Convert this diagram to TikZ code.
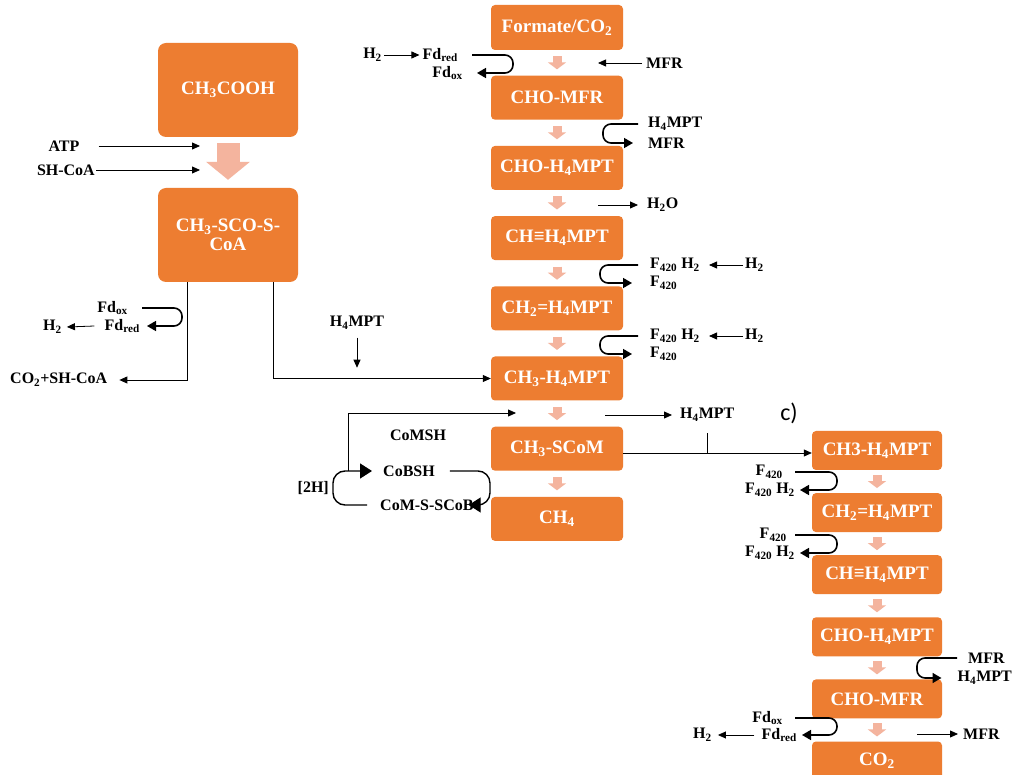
\documentclass[tikz,border=0pt]{standalone}
\usepackage{fontspec}
\setmainfont{Liberation Serif}
\newfontfamily\cfont{Carlito}
\usetikzlibrary{arrows.meta,calc}
\definecolor{orangec}{RGB}{237,125,49}
\definecolor{pinkc}{RGB}{244,180,158}
\newcommand\sbs[1]{\textsubscript{#1}}
\newcommand\pdown[2]{\draw[parrow] ($(#1.south)!.5!(#2.north)+(0,-6.5)$) -- ++(0,13);}
\begin{document}
\begin{tikzpicture}[x=1pt,y=-1pt,
 box/.style={fill=orangec, rounded corners=4pt, text=white, font=\fontsize{19}{19}\selectfont\bfseries, minimum width=132pt, minimum height=44pt, inner sep=0pt, align=center},
 rbox/.style={box, minimum width=130pt, minimum height=39pt},
 bigbox/.style={box, minimum width=140pt, minimum height=94pt, rounded corners=8pt},
 lab/.style={font=\fontsize{16}{18}\selectfont\bfseries, inner sep=0pt},
 arr/.style={line width=0.8pt, -{Triangle[length=8pt,width=7pt]}},
 lineonly/.style={line width=0.8pt},
 uloop/.style={line width=1.6pt, rounded corners=8pt, -{Triangle[length=9pt,width=10pt]}},
 bloop/.style={line width=1.4pt, rounded corners=12pt, -{Triangle[length=12pt,width=15pt]}},
 parrow/.style={pinkc, line width=9pt, -{Triangle[length=7pt,width=18pt]}},
]
\clip (0,0) rectangle (1013,775);
\fill[white] (0,0) rectangle (1013,775);

% ---------- middle column ----------
\node[box, minimum height=45pt] (f1) at (557,27.5) {Formate/CO\sbs{2}};
\node[box] (f2) at (557,97.7) {CHO-MFR};
\node[box] (f3) at (557,167.9) {CHO-H\sbs{4}MPT};
\node[box] (f4) at (557,238.1) {CH≡H\sbs{4}MPT};
\node[box] (f5) at (557,308.3) {CH\sbs{2}=H\sbs{4}MPT};
\node[box] (f6) at (557,378.5) {CH\sbs{3}-H\sbs{4}MPT};
\node[box] (f7) at (557,448.7) {CH\sbs{3}-SCoM};
\node[box] (f8) at (557,518.9) {CH\sbs{4}};
\pdown{f1}{f2}\pdown{f2}{f3}\pdown{f3}{f4}\pdown{f4}{f5}
\pdown{f5}{f6}\pdown{f6}{f7}\pdown{f7}{f8}

% ---------- left column ----------
\node[bigbox] (a1) at (228,90) {CH\sbs{3}COOH};
\node[bigbox] (a2) at (228,235) {CH\sbs{3}-SCO-S-\\CoA};
\draw[pinkc, line width=23pt, -{Triangle[length=18pt,width=43pt]}] ([yshift=-6pt]a1.south) -- ([yshift=8pt]a2.north);

\coordinate (in1) at (200,146);
\coordinate (in2) at (200,170);
\node[lab] (atp) at (64,146) {ATP};
\node[lab, anchor=east] (shcoa) at (95,170) {SH-CoA};
\draw[arr] ([xshift=19pt]atp.east) -- (in1);
\draw[arr] ([xshift=1pt]shcoa.east) -- (in2);

\node[lab, anchor=east] (fdo2) at (128,308) {Fd\sbs{ox}};
\node[lab, anchor=east] (fdr2) at (140,326) {Fd\sbs{red}};
\node[lab, anchor=west] (h2c) at (43,327) {H\sbs{2}};
\draw[uloop] ([xshift=14pt]fdo2.east) -- ++(40,0) |- ([xshift=7pt]fdr2.east);
\draw[arr] ([xshift=-10pt]fdr2.west) -- ([xshift=5pt]h2c.east);

\node[lab, anchor=west] (co2sh) at (10,380) {CO\sbs{2}+SH-CoA};
\draw[arr] ([xshift=-41pt]a2.south) |- ([xshift=12pt]co2sh.east);
\draw[arr] ([xshift=45pt]a2.south) |- (f6.west);

\node[lab] (h4b) at (357,323) {H\sbs{4}MPT};
\draw[arr] ([yshift=-8pt]h4b.south) -- ++(0,30);

% ---------- top middle labels ----------
\node[lab, anchor=east] (h2a) at (382,55) {H\sbs{2}};
\node[lab, anchor=east] (fdr1) at (458,55) {Fd\sbs{red}};
\node[lab, anchor=east] (fdo1) at (463,73) {Fd\sbs{ox}};
\draw[arr] ([xshift=2pt]h2a.east) -- ([xshift=-3pt]fdr1.west);
\draw[uloop] ([xshift=14pt]fdr1.east) -- ++(41,0) |- ([xshift=14pt]fdo1.east);

\node[lab, anchor=west] (mfr1) at (646,63) {MFR};
\draw[arr] ([xshift=-4pt]mfr1.west) -- ++(-44,0);

\node[lab, anchor=west] (h4a) at (648,124) {H\sbs{4}MPT};
\node[lab, anchor=west] (mfr2) at (648,143) {MFR};
\draw[uloop] ([xshift=-10pt]h4a.west) -- ++(-35,0) |- ([xshift=-15pt]mfr2.west);

\node[lab, anchor=west] (h2o) at (647,205) {H\sbs{2}O};
\draw[arr] ([xshift=-49pt]h2o.west) -- ([xshift=-9pt]h2o.west);

\node[lab, anchor=west] (fh1) at (650,265) {F\sbs{420} H\sbs{2}};
\node[lab, anchor=west] (fo1) at (650,283) {F\sbs{420}};
\node[lab, anchor=west] (h2b) at (745,265) {H\sbs{2}};
\draw[arr] ([xshift=-2pt]h2b.west) -- ([xshift=9pt]fh1.east);
\draw[uloop] ([xshift=-12pt]fh1.west) -- ++(-38,0) |- ([xshift=-18pt]fo1.west);

\node[lab, anchor=west] (fh2) at (650,336) {F\sbs{420} H\sbs{2}};
\node[lab, anchor=west] (fo2) at (650,354) {F\sbs{420}};
\node[lab, anchor=west] (h2d) at (745,336) {H\sbs{2}};
\draw[arr] ([xshift=-2pt]h2d.west) -- ([xshift=9pt]fh2.east);
\draw[uloop] ([xshift=-12pt]fh2.west) -- ++(-38,0) |- ([xshift=-18pt]fo2.west);

% ---------- bottom middle ----------
\coordinate (ret) at (516,413);
\coordinate (jt) at (348,471);
\node[lab] (comsh) at (418,435) {CoMSH};
\node[lab, anchor=west] (cobsh) at (383,471) {CoBSH};
\node[lab, anchor=west] (coms) at (380,505) {CoM-S-SCoB};
\node[lab, anchor=east] (h2h) at (329,488) {[2H]};
\draw[bloop] ([xshift=-13pt]coms.west) -- ++(-34,0) |- ([xshift=-11pt]cobsh.west);
\draw[arr] (jt) |- (ret);
\draw[bloop] ([xshift=15pt]cobsh.east) -- ++(40,0) |- ([xshift=-5pt]coms.east);

\node[lab, anchor=west] (h4c) at (680,415) {H\sbs{4}MPT};
\draw[arr] ([xshift=-75pt]h4c.west) -- ([xshift=-8pt]h4c.west);

\node[font=\cfont\fontsize{24}{26}\selectfont, inner sep=0pt] (clab) at (789,413) {c)};

% ---------- right column ----------
\node[rbox] (r1) at (877,450.5) {CH3-H\sbs{4}MPT};
\node[rbox] (r2) at (877,512.6) {CH\sbs{2}=H\sbs{4}MPT};
\node[rbox] (r3) at (877,574.7) {CH≡H\sbs{4}MPT};
\node[rbox] (r4) at (877,636.8) {CHO-H\sbs{4}MPT};
\node[rbox] (r5) at (877,698.9) {CHO-MFR};
\node[rbox] (r6) at (877,761) {CO\sbs{2}};
\pdown{r1}{r2}\pdown{r2}{r3}\pdown{r3}{r4}\pdown{r4}{r5}\pdown{r5}{r6}

\coordinate (jn) at (707,453);
\draw[arr] (f7.east |- jn) -- (r1.west |- jn);
\draw[lineonly] (jn) -- ++(0,-20);

\node[lab, anchor=east] (rf1) at (783,472) {F\sbs{420}};
\node[lab, anchor=east] (rfh1) at (795,490) {F\sbs{420} H\sbs{2}};
\draw[uloop] ([xshift=12pt]rf1.east) -- ++(42,0) |- ([xshift=5pt]rfh1.east);

\node[lab, anchor=east] (rf2) at (787,535) {F\sbs{420}};
\node[lab, anchor=east] (rfh2) at (795,553) {F\sbs{420} H\sbs{2}};
\draw[uloop] ([xshift=8pt]rf2.east) -- ++(42,0) |- ([xshift=5pt]rfh2.east);

\node[lab, anchor=west] (rmfr) at (968,658) {MFR};
\node[lab, anchor=east] (rh4) at (1012,678) {H\sbs{4}MPT};
\draw[uloop] ([xshift=-11pt]rmfr.west) -- ++(-40,0) |- ([xshift=-16pt]rh4.west);

\node[lab, anchor=east] (rfdo) at (783,718) {Fd\sbs{ox}};
\node[lab, anchor=east] (rfdr) at (797,735) {Fd\sbs{red}};
\node[lab, anchor=west] (rh2) at (693,735) {H\sbs{2}};
\draw[uloop] ([xshift=12pt]rfdo.east) -- ++(42,0) |- ([xshift=5pt]rfdr.east);
\draw[arr] ([xshift=-7pt]rfdr.west) -- ([xshift=6pt]rh2.east);

\node[lab, anchor=west] (rmfr2) at (963,734) {MFR};
\draw[arr] ([xshift=-46pt]rmfr2.west) -- ([xshift=-5pt]rmfr2.west);
\end{tikzpicture}
\end{document}
